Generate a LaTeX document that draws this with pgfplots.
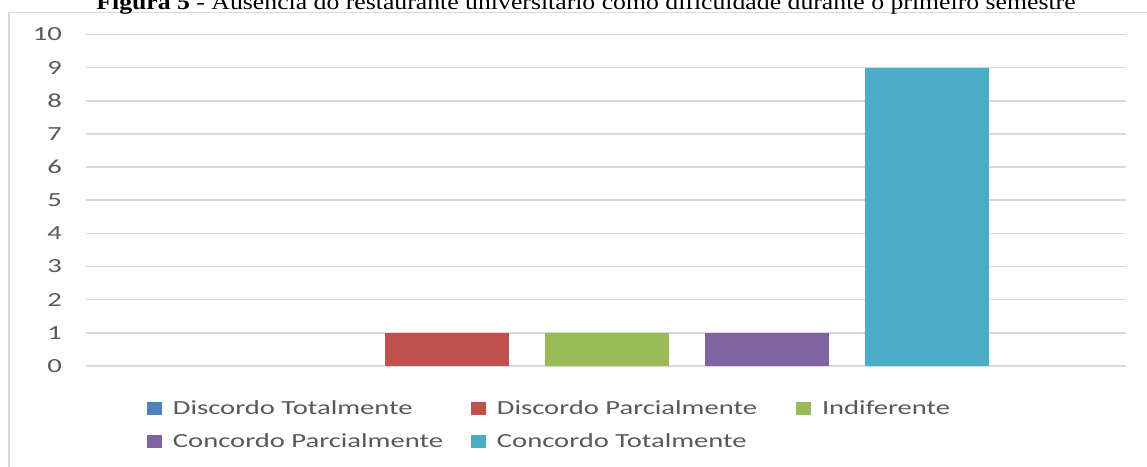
\documentclass[border=0pt]{standalone}
\usepackage{fontspec}
\setmainfont{Carlito}[FakeStretch=1.43]
\newfontfamily\titlefont{Liberation Serif}[FakeStretch=1.17]
\usepackage{pgfplots}
\pgfplotsset{compat=1.18}
\definecolor{cA}{HTML}{4F81BD}
\definecolor{cB}{HTML}{C0504D}
\definecolor{cC}{HTML}{9BBB59}
\definecolor{cD}{HTML}{8064A2}
\definecolor{cE}{HTML}{4BACC6}
\definecolor{txtgray}{HTML}{595959}
\definecolor{gridgray}{HTML}{D9D9D9}
\pgfplotsset{sqlegend/.style={legend image code/.code={\fill[##1] (0pt,-6.5pt) rectangle (15pt,6.5pt);}}}
\begin{document}
\begin{tikzpicture}
\path[use as bounding box] (0pt,0pt) rectangle (1147pt,466pt);
\clip (0pt,0pt) rectangle (1147pt,466pt);
\fill[white] (0pt,0pt) rectangle (1147pt,466pt);
\draw[gridgray, line width=1.5pt] (9pt,-10pt) -- (9pt,453.5pt) -- (1160pt,453.5pt);
\node[anchor=base, font=\titlefont\fontsize{22}{26}\selectfont, inner sep=0pt] at (586pt,456pt)
  {\textbf{Figura 5} - Ausência do restaurante universitário como dificuldade durante o primeiro semestre};
\begin{axis}[
  at={(86pt,100pt)}, anchor=south west,
  scale only axis, width=1040pt, height=331.5pt,
  xmin=-1.256, xmax=5.244, ymin=0, ymax=10,
  ytick={0,1,...,10}, xtick=\empty,
  ymajorgrids, grid style={color=gridgray, line width=1.5pt},
  axis line style={draw=none}, major tick length=0pt,
  /pgf/number format/assume math mode=true,
  yticklabel style={font=\fontsize{20}{24}\selectfont, text=txtgray, inner sep=0pt, xshift=-24pt},
  legend columns=3, legend cell align=left,
  legend style={at={(0.05865,-0.0997)}, anchor=north west, draw=none, fill=none,
    inner sep=0pt, outer sep=0pt, font=\fontsize{20}{24}\selectfont, text=txtgray,
    row sep=15pt, nodes={inner sep=0pt, text height=15.5pt, text depth=2.5pt},
    /tikz/every odd column/.append style={column sep=11pt}},
]
\addplot[ybar, fill=none, draw=none, bar width=0.775, bar shift=0pt,
  legend image code/.code={\fill[cA] (0pt,-6.5pt) rectangle (15pt,6.5pt);}] coordinates {(0,0)};
\addlegendentry{\makebox[298pt][l]{Discordo Totalmente}}
\addplot[ybar, fill=cB, draw=none, bar width=0.775, bar shift=0pt, sqlegend] coordinates {(1,1)};
\addlegendentry{\makebox[299pt][l]{Discordo Parcialmente}}
\addplot[ybar, fill=cC, draw=none, bar width=0.775, bar shift=0pt, sqlegend] coordinates {(2,1)};
\addlegendentry{Indiferente}
\addplot[ybar, fill=cD, draw=none, bar width=0.775, bar shift=0pt, sqlegend] coordinates {(3,1)};
\addlegendentry{\makebox[298pt][l]{Concordo Parcialmente}}
\addplot[ybar, fill=cE, draw=none, bar width=0.775, bar shift=0pt, sqlegend] coordinates {(4,9)};
\addlegendentry{\makebox[299pt][l]{Concordo Totalmente}}
\end{axis}
\end{tikzpicture}
\end{document}
